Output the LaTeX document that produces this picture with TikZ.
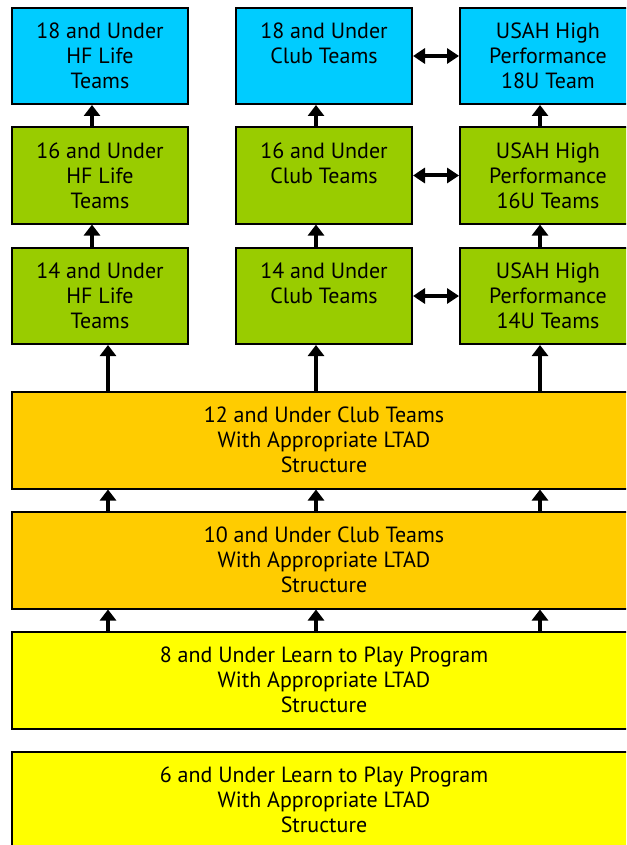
\documentclass[tikz,border=0pt]{standalone}
\usepackage{fontspec}
\setmainfont{PT Sans}
\usetikzlibrary{arrows.meta}
\definecolor{cyanbox}{HTML}{00CCFF}
\definecolor{greenbox}{HTML}{99CC00}
\definecolor{orangebox}{HTML}{FFCC00}
\definecolor{yellowbox}{HTML}{FFFF00}
\tikzset{
  boxbase/.style={draw=black, line width=2pt, rectangle, inner sep=0pt, align=center,
    font=\fontsize{22}{25}\selectfont, text=black},
  smallbox/.style={boxbase, minimum width=176pt, minimum height=96pt},
  widebox/.style={boxbase, minimum width=624pt, minimum height=97pt},
  uparrow/.style={line width=4pt, -{Triangle[width=16pt,length=11pt]}},
  bothway/.style={line width=4pt, {Triangle[width=15pt,length=12pt]}-{Triangle[width=15pt,length=12pt]}}
}
\begin{document}
\begin{tikzpicture}[x=1pt,y=-1pt]
\useasboundingbox (0,0) rectangle (626,845);
\clip (0,0) rectangle (626,845);
% column coordinates
\coordinate (ca) at (92,0);
\coordinate (cb) at (108,0);
\coordinate (cm) at (316,0);
\coordinate (cr) at (540,0);
% top three rows
\node[smallbox, fill=cyanbox] (l18) at (100,56) {18 and Under\\HF Life\\Teams};
\node[smallbox, fill=cyanbox] (c18) at (324,56) {18 and Under\\Club Teams\\\mbox{}};
\node[smallbox, fill=cyanbox] (h18) at (548,56) {USAH High\\Performance\\18U Team};
\node[smallbox, fill=greenbox] (l16) at (100,175.5) {16 and Under\\HF Life\\Teams};
\node[smallbox, fill=greenbox] (c16) at (324,175.5) {16 and Under\\Club Teams\\\mbox{}};
\node[smallbox, fill=greenbox] (h16) at (548,175.5) {USAH High\\Performance\\16U Teams};
\node[smallbox, fill=greenbox] (l14) at (100,296) {14 and Under\\HF Life\\Teams};
\node[smallbox, fill=greenbox] (c14) at (324,296) {14 and Under\\Club Teams\\\mbox{}};
\node[smallbox, fill=greenbox] (h14) at (548,296) {USAH High\\Performance\\14U Teams};
% wide boxes
\node[widebox, fill=orangebox] (w12) at (324,440) {12 and Under Club Teams\\With Appropriate LTAD\\Structure};
\node[widebox, fill=orangebox] (w10) at (324,560) {10 and Under Club Teams\\With Appropriate LTAD\\Structure};
\node[widebox, fill=yellowbox] (w8) at (324,680) {8 and Under Learn to Play Program\\With Appropriate LTAD\\Structure};
\node[widebox, fill=yellowbox] (w6) at (324,800) {6 and Under Learn to Play Program\\With Appropriate LTAD\\Structure};
% vertical arrows between top rows
\draw[uparrow] (l16.north -| ca) -- (l18.south -| ca);
\draw[uparrow] (c16.north -| cm) -- (c18.south -| cm);
\draw[uparrow] (h16.north -| cr) -- (h18.south -| cr);
\draw[uparrow] (l14.north -| ca) -- (l16.south -| ca);
\draw[uparrow] (c14.north -| cm) -- (c16.south -| cm);
\draw[uparrow] (h14.north -| cr) -- (h16.south -| cr);
% from 12U to 14U
\draw[uparrow] (w12.north -| cb) -- (l14.south -| cb);
\draw[uparrow] (w12.north -| cm) -- (c14.south -| cm);
\draw[uparrow] (w12.north -| cr) -- (h14.south -| cr);
% between wide boxes
\foreach \c in {cb,cm,cr}{
  \draw[uparrow] (w10.north -| \c) -- (w12.south -| \c);
  \draw[uparrow] (w8.north -| \c) -- (w10.south -| \c);
}
% horizontal double arrows
\draw[bothway] (c18.east) -- (h18.west);
\draw[bothway] (c16.east) -- (h16.west);
\draw[bothway] (c14.east) -- (h14.west);
\end{tikzpicture}
\end{document}
